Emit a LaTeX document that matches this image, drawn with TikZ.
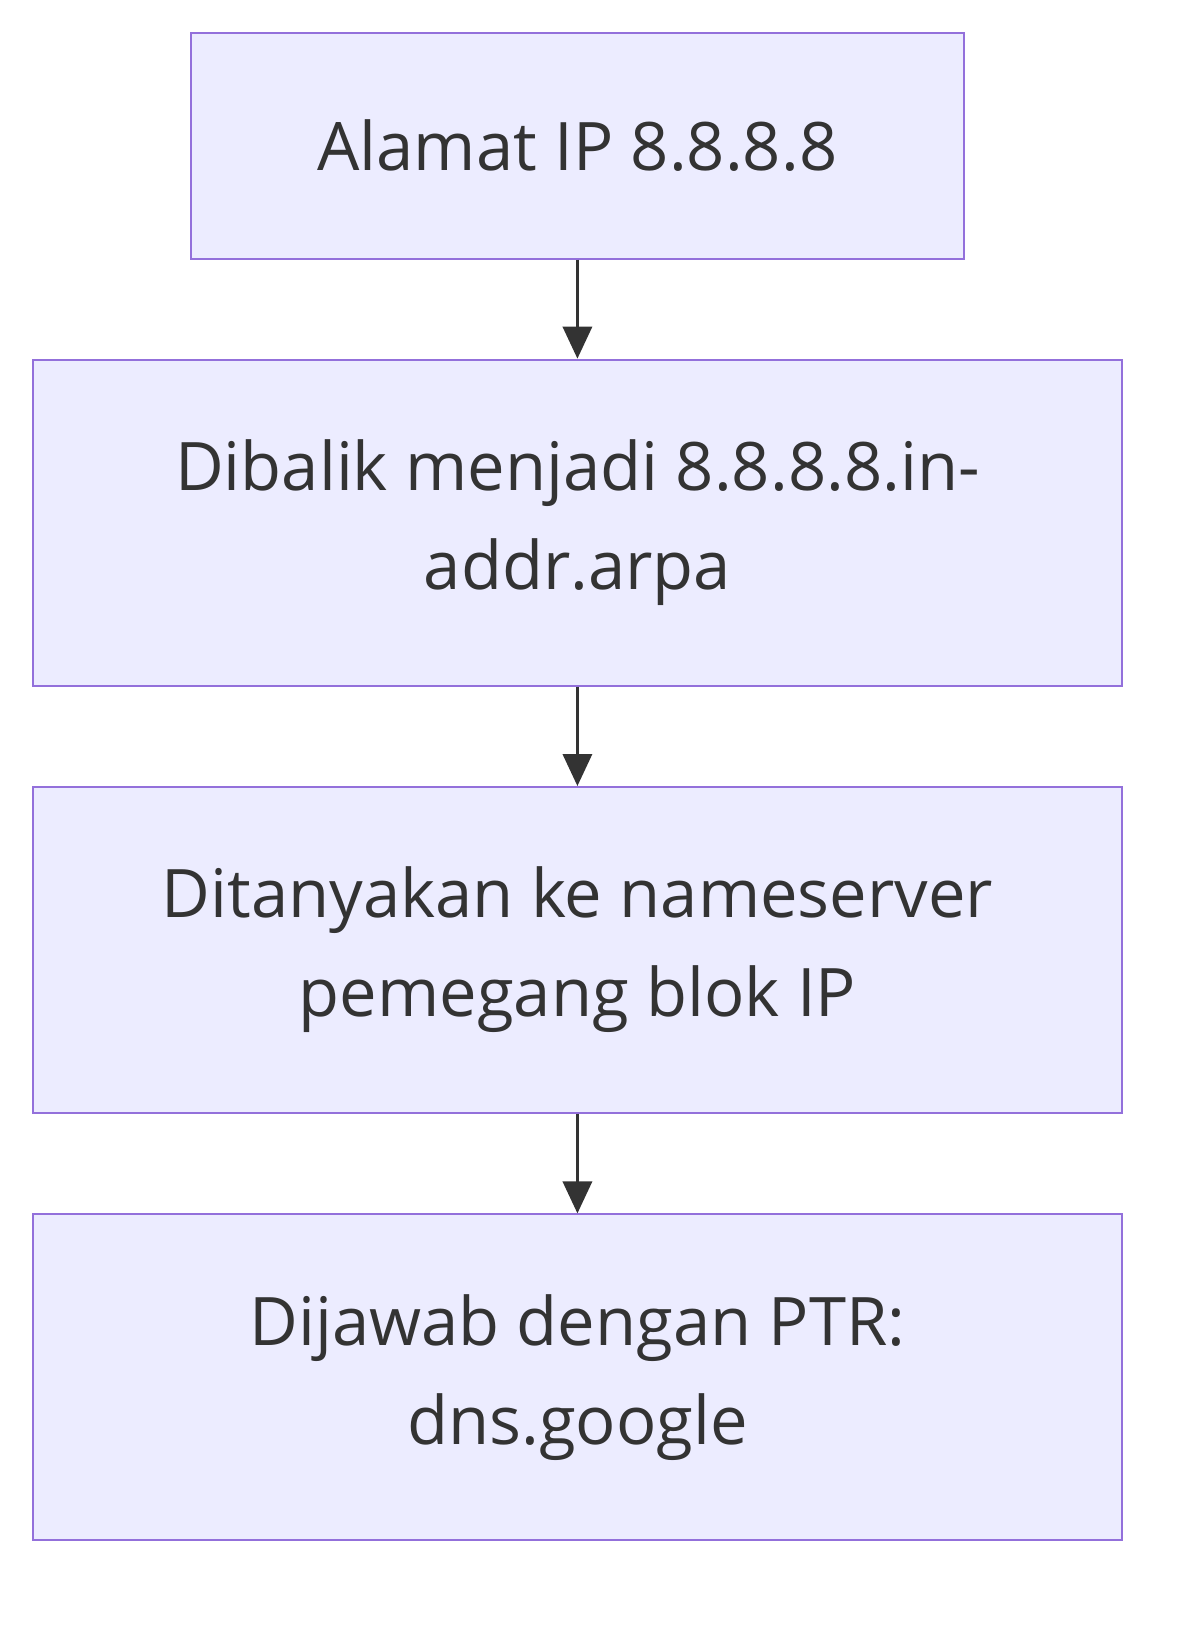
\documentclass[tikz,border=0pt]{standalone}
\usepackage{fontspec}
\setmainfont{Open Sans}
\usetikzlibrary{arrows.meta}
\begin{document}
\begin{tikzpicture}[x=0.025cm, y=-0.025cm,
    box_style/.style={draw=boxline, fill=boxfill, line width=1.3pt, align=center,
      font=\fontsize{46}{68}\selectfont, text=textgray, inner sep=0pt},
    edge_style/.style={draw=textgray, line width=2.2pt, -{Triangle[length=22pt,width=20pt]}}]
    \definecolor{boxline}{HTML}{9370DB}
    \definecolor{boxfill}{HTML}{ECECFF}
    \definecolor{textgray}{HTML}{333333}
    \useasboundingbox (0,0) rectangle (1160,1580);

    \node[box_style, minimum width=747*0.025cm, minimum height=218*0.025cm] (ip) at (558,141) {Alamat IP 8.8.8.8};
    \node[box_style, minimum width=1053*0.025cm, minimum height=315*0.025cm] (rev) at (558,505) {Dibalik menjadi 8.8.8.8.in-\\addr.arpa};
    \node[box_style, minimum width=1053*0.025cm, minimum height=315*0.025cm] (ask) at (558,918) {Ditanyakan ke nameserver\\pemegang blok IP};
    \node[box_style, minimum width=1053*0.025cm, minimum height=315*0.025cm] (ptr) at (558,1331) {Dijawab dengan PTR:\\dns.google};
    \draw[edge_style] (ip) -- (rev);
    \draw[edge_style] (rev) -- (ask);
    \draw[edge_style] (ask) -- (ptr);
\end{tikzpicture}
\end{document}
